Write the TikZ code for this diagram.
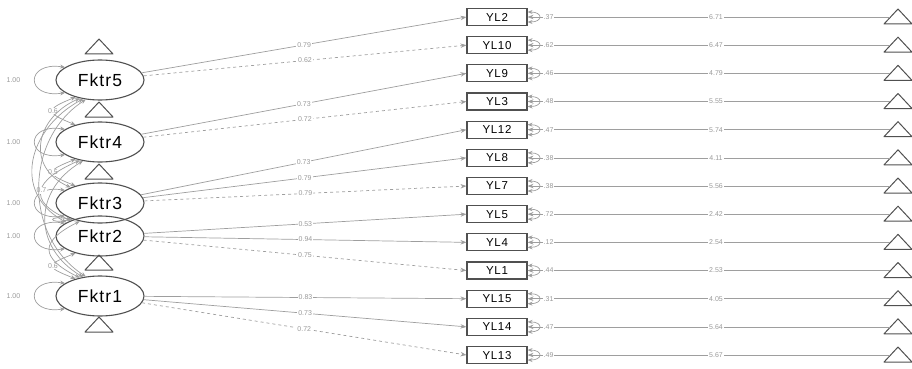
\documentclass[tikz,border=0pt]{standalone}
\usepackage{fontspec}
\setmainfont{Liberation Sans}
\newfontfamily\latfont[LetterSpace=6]{Liberation Sans}
\newfontfamily\manfont[LetterSpace=6]{Liberation Sans}
\usetikzlibrary{shapes.geometric,arrows.meta}
\definecolor{edgegray}{HTML}{9E9E9E}
\definecolor{labgray}{HTML}{9A9A9A}
\definecolor{nodegray}{HTML}{505050}

\begin{document}
\begin{tikzpicture}[x=1pt, y=-1pt,
    latent/.style={ellipse, draw=nodegray, line width=1.1pt, minimum width=88pt, minimum height=40pt, inner sep=0pt, font=\latfont\fontsize{17.5}{17.5}\selectfont},
    manifest/.style={rectangle, draw=nodegray, line width=1.1pt, minimum width=60pt, minimum height=17pt, inner sep=0pt, font=\manfont\fontsize{11.5}{11.5}\selectfont},
    loadline/.style={draw=edgegray, line width=0.7pt, -{Stealth[length=6pt,width=4.5pt]}},
    covline/.style={draw=edgegray, line width=0.7pt, {Stealth[length=5pt,width=4pt]}-{Stealth[length=5pt,width=4pt]}},
    edgelab/.style={fill=white, text=labgray, font=\fontsize{7}{7}\selectfont, inner sep=1pt},
    intc/.pic={\draw[nodegray, line width=1pt, line join=round] (-14,7) -- (0,-8) -- (14,7) -- cycle;
               \coordinate (-w) at (-8,0);}
  ]
  \useasboundingbox (0,0) rectangle (912,369);

  % intercept triangles of the factors
  \foreach \ty [count=\k] in {47,110,172,263,325}
    \pic (tf\k) at (99,\ty) {intc};

  % factors
  \node[latent] (F5) at (100,80)  {Fktr5};
  \node[latent] (F4) at (100,142) {Fktr4};
  \node[latent] (F3) at (100,203) {Fktr3};
  \node[latent] (F2) at (100,236) {Fktr2};
  \node[latent] (F1) at (100,296) {Fktr1};

  % indicators, residuals and intercepts
  \foreach \nm/\res/\icp [count=\i from 0] in {YL2/.37/6.71, YL10/.62/6.47, YL9/.46/4.79,
      YL3/.48/5.55, YL12/.47/5.74, YL8/.38/4.11, YL7/.38/5.56, YL5/.72/2.42, YL4/.12/2.54,
      YL1/.44/2.53, YL15/.31/4.05, YL14/.47/5.64, YL13/.49/5.67} {
    \node[manifest] (\nm) at (497,17+28.17*\i) {\nm};
    \pic (t\nm) at (898,17+28.17*\i) {intc};
    \draw[loadline] (t\nm-w) -- node[edgelab, pos=0.48] {\icp} (\nm.east);
    \draw[covline] ([yshift=5pt]\nm.east) to[out=0, in=0, looseness=4] ([yshift=-5pt]\nm.east);
    \node[edgelab] at ([xshift=21pt]\nm.east) {\res};
  }

  % loadings
  \draw[loadline] (F5) -- node[edgelab] {0.79} (YL2.west);
  \draw[loadline, dashed] (F5) -- node[edgelab] {0.62} (YL10.west);
  \draw[loadline] (F4) -- node[edgelab] {0.73} (YL9.west);
  \draw[loadline, dashed] (F4) -- node[edgelab] {0.72} (YL3.west);
  \draw[loadline] (F3) -- node[edgelab] {0.73} (YL12.west);
  \draw[loadline] (F3) -- node[edgelab] {0.79} (YL8.west);
  \draw[loadline, dashed] (F3) -- node[edgelab] {0.79} (YL7.west);
  \draw[loadline] (F2) -- node[edgelab] {0.53} (YL5.west);
  \draw[loadline] (F2) -- node[edgelab] {0.94} (YL4.west);
  \draw[loadline, dashed] (F2) -- node[edgelab] {0.75} (YL1.west);
  \draw[loadline] (F1) -- node[edgelab] {0.83} (YL15.west);
  \draw[loadline] (F1) -- node[edgelab] {0.73} (YL14.west);
  \draw[loadline, dashed] (F1) -- node[edgelab] {0.72} (YL13.west);

  % factor variances
  \foreach \f in {F5,F4,F3,F2,F1} {
    \draw[covline] (\f.160) .. controls +(-40,-6) and +(-40,6) .. (\f.200);
    \node[edgelab] at ([xshift=-42pt]\f.west) {1.00};
  }

  % factor covariances
  \draw[covline] (F5.215) .. controls +(-30,12) and +(-30,-12) .. node[edgelab] {0.6} (F4.145);
  \draw[covline] (F4.215) .. controls +(-30,12) and +(-30,-12) .. node[edgelab] {0.5} (F3.145);
  \draw[covline] (F3.210) .. controls +(-25,6) and +(-25,-6) .. (F2.150);
  \draw[covline] (F2.215) .. controls +(-30,12) and +(-30,-12) .. node[edgelab] {0.6} (F1.145);
  \draw[covline] (F5.222) .. controls +(-45,20) and +(-45,-20) .. (F3.152);
  \draw[covline] (F4.222) .. controls +(-45,20) and +(-45,-20) .. node[edgelab] {0.7} (F2.152);
  \draw[covline] (F3.222) .. controls +(-40,20) and +(-40,-20) .. (F1.138);
  \draw[covline] (F5.228) .. controls +(-55,30) and +(-55,-30) .. (F2.158);
  \draw[covline] (F4.228) .. controls +(-50,30) and +(-50,-30) .. (F1.132);
  \draw[covline] (F5.234) .. controls +(-62,40) and +(-62,-40) .. (F1.126);
\end{tikzpicture}
\end{document}
